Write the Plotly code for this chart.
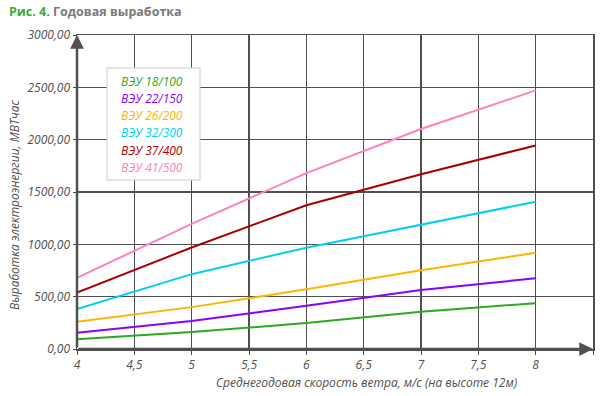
import plotly.graph_objects as go

# ---- data ----
wind_speed = [4, 5, 6, 7, 8]
series_names = ["ВЭУ 18/100", "ВЭУ 22/150", "ВЭУ 26/200", "ВЭУ 32/300", "ВЭУ 37/400", "ВЭУ 41/500"]
vey_18_100 = [93, 162, 248, 356, 438]
vey_22_150 = [154, 268, 413, 563, 676]
vey_26_200 = [260, 400, 570, 753, 919]
vey_32_300 = [381, 715, 968, 1189, 1407]
vey_37_400 = [538, 970, 1374, 1669, 1945]
vey_41_500 = [680, 1196, 1680, 2102, 2471]
series_values = [vey_18_100, vey_22_150, vey_26_200, vey_32_300, vey_37_400, vey_41_500]
series_colors = ["#2eaa22", "#8a00ff", "#ffb400", "#00d0f0", "#a80000", "#ff80c0"]

x_tickvals = [4, 4.5, 5, 5.5, 6, 6.5, 7, 7.5, 8, 8.5]
x_ticktext = ["4", "4,5", "5", "5,5", "6", "6,5", "7", "7,5", "8", "8,5"]
y_tickvals = [0, 500, 1000, 1500, 2000, 2500, 3000]
y_ticktext = ["0,00", "500,00", "1000,00", "1500,00", "2000,00", "2500,00", "3000,00"]

title_prefix = "Рис. 4."
title_text = "Годовая выработка"
x_title = "Среднегодовая скорость ветра, м/с (на высоте 12м)"
y_title = "Выработка электроэнергии, МВТчас"

FONT = "Open Sans"
AXC = "#505050"

fig = go.Figure()
for name, vals, col in zip(series_names, series_values, series_colors):
    fig.add_trace(go.Scatter(x=wind_speed, y=vals, mode="lines", name=name,
                             line=dict(color=col, width=2), showlegend=False,
                             hoverinfo="skip"))

W, H = 600, 396
ml, mr, mt, mb = 77, 7, 35, 47
pw, ph = W - ml - mr, H - mt - mb

def px_to_paper(px, py):
    return (px - ml) / pw, (H - mb - py) / ph

annotations = []
# legend as colored text
for i, (name, col) in enumerate(zip(series_names, series_colors)):
    xp, yp = px_to_paper(119, 81 + i * 17.3)
    annotations.append(dict(x=xp, y=yp, xref="paper", yref="paper", text=name,
                            showarrow=False, xanchor="left", yanchor="middle",
                            font=dict(family=FONT, size=12, color=col, style="italic")))
# title
tx, ty = px_to_paper(7, 11)
annotations.append(dict(x=tx, y=ty, xref="paper", yref="paper",
                        text=f"<b><span style='color:#3aaa35'>{title_prefix}</span> "
                             f"<span style='color:#7a7a7a'>{title_text}</span></b>",
                        showarrow=False, xanchor="left", yanchor="middle",
                        font=dict(family=FONT, size=12.5)))
# axis titles
xt, yt = px_to_paper(366, 382)
annotations.append(dict(x=xt, y=yt, xref="paper", yref="paper", text=x_title,
                        showarrow=False, xanchor="center", yanchor="middle",
                        font=dict(family=FONT, size=12, color=AXC, style="italic")))
xt, yt = px_to_paper(14, 205)
annotations.append(dict(x=xt, y=yt, xref="paper", yref="paper", text=y_title,
                        showarrow=False, xanchor="center", yanchor="middle", textangle=-90,
                        font=dict(family=FONT, size=12, color=AXC, style="italic")))
# axis arrows
annotations.append(dict(x=8.5, y=0, ax=4, ay=0, xref="x", yref="y", axref="x", ayref="y",
                        showarrow=True, arrowhead=2, arrowsize=1.1, arrowwidth=2.5,
                        arrowcolor=AXC, text=""))
annotations.append(dict(x=4, y=3000, ax=4, ay=0, xref="x", yref="y", axref="x", ayref="y",
                        showarrow=True, arrowhead=2, arrowsize=1.1, arrowwidth=2.5,
                        arrowcolor=AXC, text=""))

lx0, ly0 = px_to_paper(107, 180)
lx1, ly1 = px_to_paper(200, 68)
shapes = [dict(type="rect", xref="paper", yref="paper", x0=lx0, y0=ly0, x1=lx1, y1=ly1,
               line=dict(color="#cccccc", width=1), fillcolor="white", layer="above")]

fig.update_layout(
    width=W, height=H,
    margin=dict(l=ml, r=mr, t=mt, b=mb, pad=0, autoexpand=False),
    paper_bgcolor="white", plot_bgcolor="white",
    annotations=annotations, shapes=shapes,
    font=dict(family=FONT),
    hovermode=False,
)
fig.update_xaxes(range=[4, 8.5], tickvals=x_tickvals, ticktext=x_ticktext, automargin=False,
                 showgrid=True, gridcolor=AXC, gridwidth=1.6, zeroline=False,
                 showline=True, mirror=True, linecolor=AXC, linewidth=1.5,
                 ticks="outside", ticklen=4, tickcolor=AXC,
                 tickfont=dict(family=FONT, size=12, color=AXC, style="italic"))
fig.update_yaxes(range=[0, 3000], tickvals=y_tickvals, ticktext=y_ticktext, automargin=False,
                 showgrid=True, gridcolor=AXC, gridwidth=1.5, zeroline=False,
                 showline=True, mirror=True, linecolor=AXC, linewidth=1.5,
                 ticks="outside", ticklen=3, tickcolor=AXC,
                 tickfont=dict(family=FONT, size=12, color=AXC, style="italic"))

fig.write_html("out.html", config={"displayModeBar": False, "staticPlot": True},
               post_script="document.body.style.margin='0';document.body.style.overflow='hidden';")
